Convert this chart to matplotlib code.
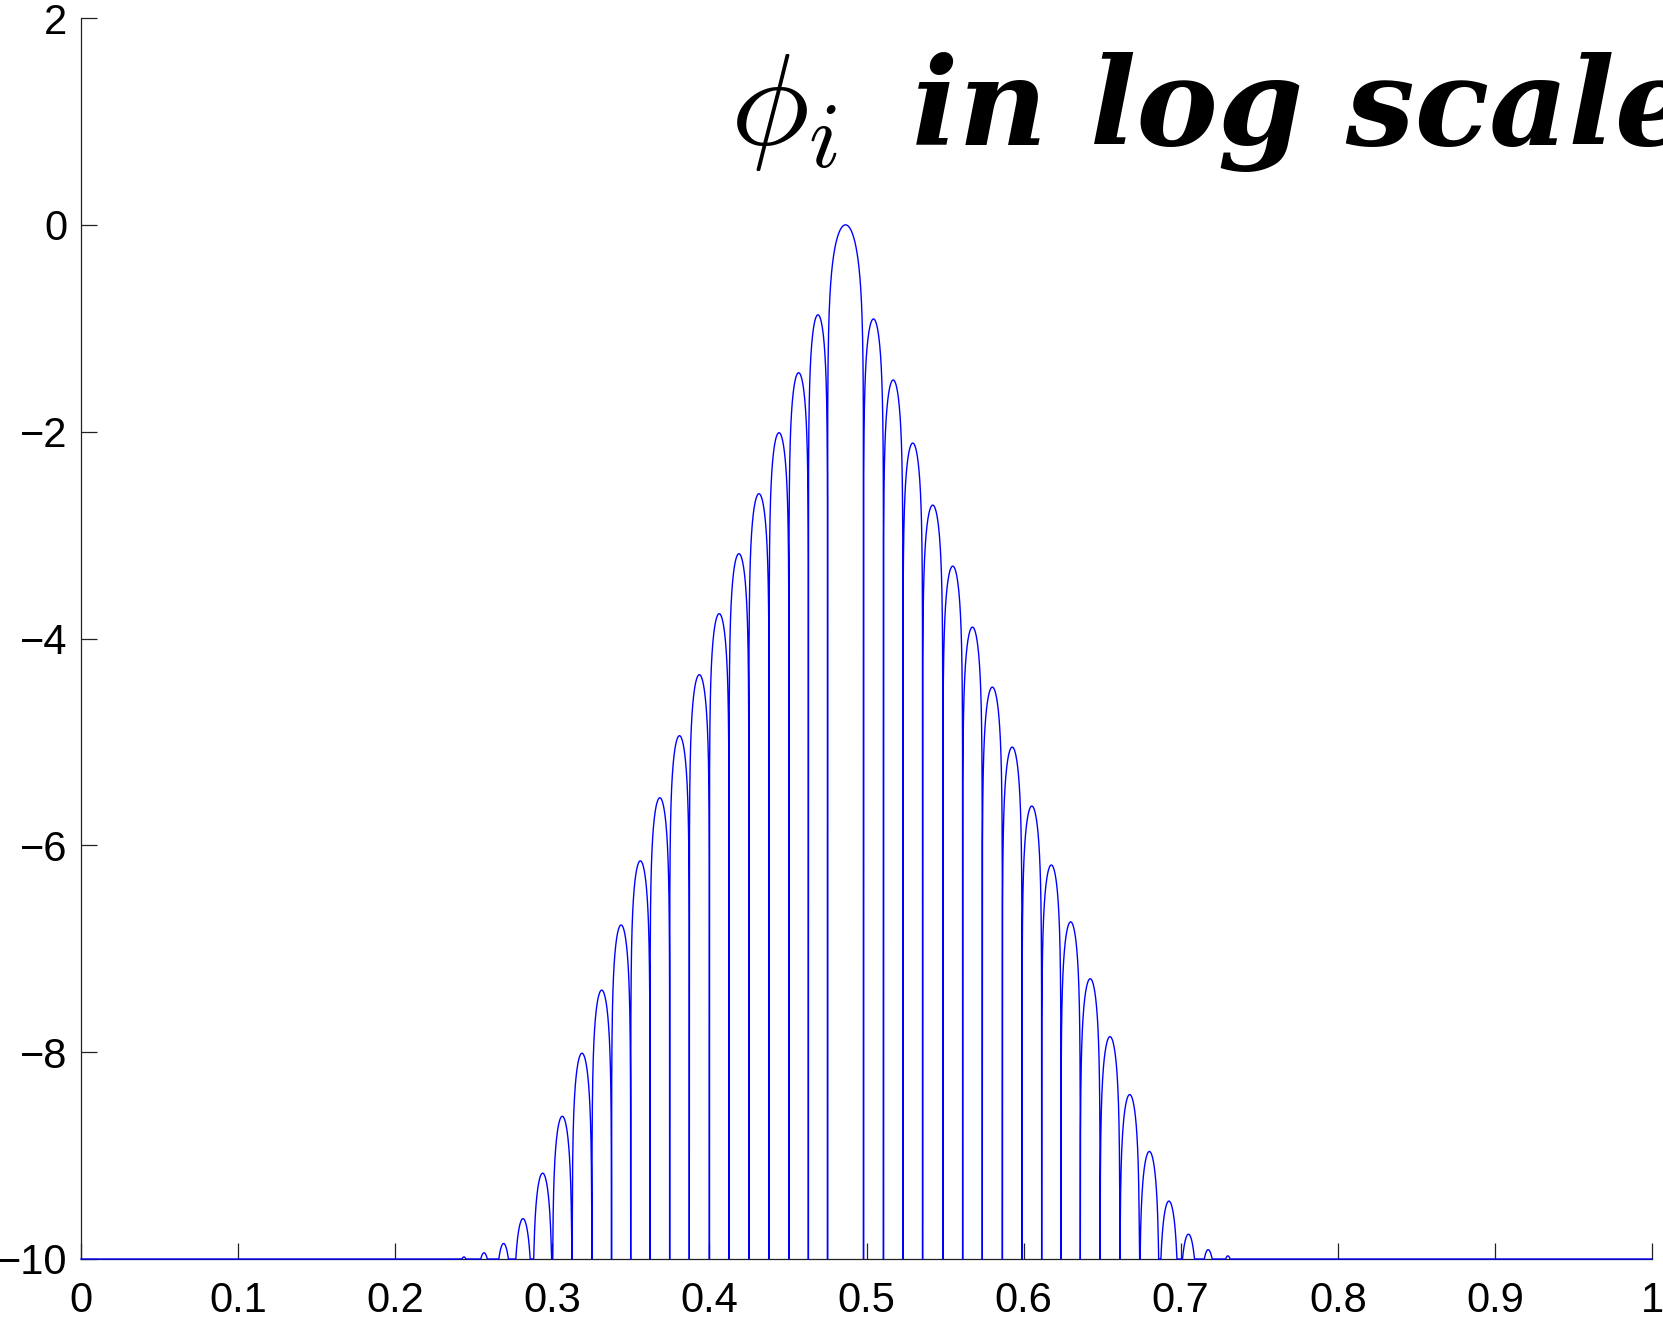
import numpy as np
import matplotlib
matplotlib.use("Agg")
import matplotlib.pyplot as plt

plt.rcParams['font.family'] = ['Liberation Sans', 'DejaVu Sans']
plt.rcParams['mathtext.fontset'] = 'cm'

# zero crossings of phi_i (arch boundaries)
zeros_x = [0.2373, 0.2502, 0.2629, 0.2751, 0.2876, 0.3001, 0.3126, 0.3252,
           0.3377, 0.3499, 0.3622, 0.3747, 0.3872, 0.4000, 0.4125, 0.4251,
           0.4380, 0.4506, 0.4630, 0.4752, 0.4981, 0.5108, 0.5232, 0.5357,
           0.5486, 0.5612, 0.5737, 0.5865, 0.5990, 0.6115, 0.6238, 0.6361,
           0.6487, 0.6613, 0.6738, 0.6863, 0.6987, 0.7112, 0.7238, 0.7362]

# log10 |phi_i| at the top of each arch
peak_log = [-9.98, -9.94, -9.85, -9.61, -9.17, -8.62, -8.01, -7.40, -6.77,
            -6.15, -5.54, -4.94, -4.35, -3.76, -3.18, -2.60, -2.01, -1.43,
            -0.87, 0.00, -0.91, -1.50, -2.11, -2.71, -3.30, -3.89, -4.47,
            -5.05, -5.62, -6.19, -6.74, -7.29, -7.85, -8.41, -8.96, -9.44,
            -9.76, -9.91, -9.97]

floor_val = -10
x_ticks = [0, 0.1, 0.2, 0.3, 0.4, 0.5, 0.6, 0.7, 0.8, 0.9, 1]
x_labels = ['0', '0.1', '0.2', '0.3', '0.4', '0.5', '0.6', '0.7', '0.8', '0.9', '1']
y_ticks = [-10, -8, -6, -4, -2, 0, 2]

# build the curve arch by arch (each arch is a |sin| lobe in log scale)
xs = [np.array([0.0, zeros_x[0]])]
ys = [np.array([floor_val, floor_val])]
for a, b, h in zip(zeros_x[:-1], zeros_x[1:], peak_log):
    t = np.linspace(0, 1, 200)
    s = np.abs(np.sin(np.pi * t))
    with np.errstate(divide='ignore'):
        yy = h + np.log10(s)
    xs.append(a + (b - a) * t)
    ys.append(np.maximum(yy, floor_val))
xs.append(np.array([zeros_x[-1], 1.0]))
ys.append(np.array([floor_val, floor_val]))
x = np.concatenate(xs)
y = np.concatenate(ys)

fig = plt.figure(figsize=(16.63, 13.2), dpi=100)
ax = fig.add_axes([81 / 1663, 61 / 1320, 1571 / 1663, 1241 / 1320])
ax.plot(x, y, color='#0000ff', lw=1.0, clip_on=False, zorder=3)

ax.set_xlim(0, 1)
ax.set_ylim(-10, 2)
ax.set_xticks(x_ticks)
ax.set_xticklabels(x_labels)
ax.set_yticks(y_ticks)
ax.spines['top'].set_visible(False)
ax.spines['right'].set_visible(False)
for sp in ('left', 'bottom'):
    ax.spines[sp].set_linewidth(0.9)
    ax.spines[sp].set_color('#222222')
ax.tick_params(direction='in', length=11.5, width=0.9, labelsize=30,
               color='#222222')
ax.tick_params(axis='x', pad=16)
ax.tick_params(axis='y', pad=10)

fig.text(730 / 1663, 1 - 145 / 1320, r'$\phi_i$', fontsize=95,
         ha='left', va='baseline')
fig.text(912 / 1663, 1 - 145 / 1320, 'in log scale', fontsize=88,
         family='DejaVu Serif', weight='bold', style='italic',
         ha='left', va='baseline')

fig.savefig('out.png', dpi=100)
